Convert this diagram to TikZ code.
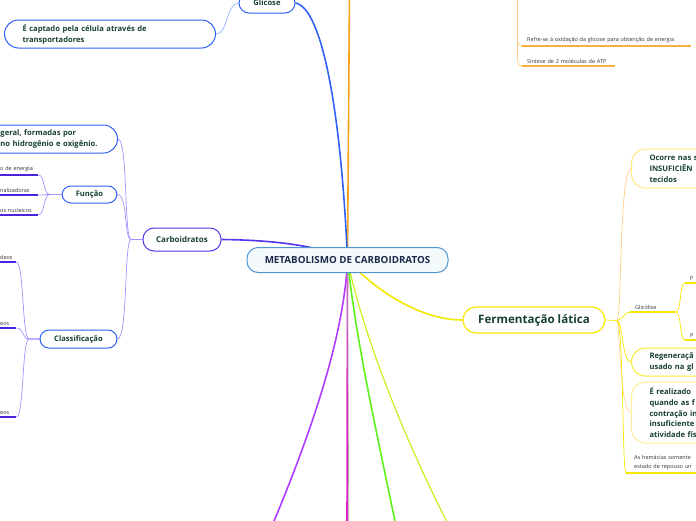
\documentclass[tikz,border=0pt]{standalone}
\usepackage{fontspec}
\setmainfont{Open Sans}
\pgfdeclarelayer{bg}
\pgfsetlayers{bg,main}
\definecolor{navy}{HTML}{1C2B4A}
\definecolor{dgreen}{HTML}{17402F}
\definecolor{cblue}{HTML}{4F95D4}
\definecolor{bblue}{HTML}{2F62F5}
\definecolor{lblue}{HTML}{93B2FF}
\definecolor{purp}{HTML}{5236EE}
\definecolor{lav}{HTML}{A392FF}
\definecolor{uline}{HTML}{4A22E0}
\definecolor{orng}{HTML}{F7A21B}
\definecolor{lorng}{HTML}{FFCB85}
\definecolor{yel}{HTML}{F4E800}
\definecolor{pyel}{HTML}{FFE77A}
\definecolor{gtxt}{HTML}{333333}
\definecolor{vio}{HTML}{B13CFF}
\definecolor{mag}{HTML}{E020C8}
\definecolor{grn}{HTML}{5EF21C}
\definecolor{ygrn}{HTML}{C8F020}
\begin{document}
\begin{tikzpicture}[x=1pt,y=-1pt,
  mainnode/.style={draw=cblue,fill=cblue!6,line width=1pt,rounded corners=11pt,
    minimum width=201pt,minimum height=25pt,text=navy,font=\fontsize{9.8}{11}\selectfont\bfseries},
  topic/.style={draw=bblue,fill=white,line width=1pt,rounded corners=9pt,text=dgreen,
    font=\fontsize{7.6}{11}\selectfont\bfseries,inner sep=0pt,align=center},
  wbox/.style={topic,anchor=west,align=left,inner xsep=18pt,rounded corners=14pt},
  leaf/.style={anchor=south west,inner xsep=5pt,inner ysep=2.5pt,align=left,text=gtxt,
    font=\fontsize{5.5}{9}\selectfont},
  ul/.style={line width=2pt},
  thinc/.style={line width=0.7pt},
  branch/.style={line width=1.6pt}
]
\useasboundingbox (0,0) rectangle (696,520);
\clip (0,0) rectangle (696,520);

% ---------- coordinates off-picture / helpers ----------
\coordinate (otop) at (349.5,-10);
\coordinate (orp) at (517.5,-10);
\coordinate (b1) at (272,526);
\coordinate (b2) at (347,526);
\coordinate (b3) at (348.8,526);
\coordinate (b4) at (396,526);
\coordinate (b5) at (449,526);
\coordinate (fx) at (45,0);
\coordinate (kx) at (24,0);

% ---------- nodes ----------
\node[mainnode] (c) at (347.5,260) {METABOLISMO DE CARBOIDRATOS};

\node[topic,minimum width=56pt,minimum height=20pt,rounded corners=10pt] (gl) at (267,3) {Glicose};
\node[wbox,minimum height=28pt,text width=175pt,draw=bblue] (cap) at (4,34)
  {É captado pela célula através de\\transportadores};

\node[topic,draw=purp,minimum width=78pt,minimum height=23pt,rounded corners=11pt,
  font=\fontsize{8}{11}\selectfont\bfseries] (carb) at (182,239.5) {Carboidratos};
\node[wbox,minimum height=28pt,text width=171pt] (gen) at (-90,139)
  {\hspace*{72pt}geral, formadas por\\\hspace*{72pt}no hidrogênio e oxigênio.};
\node[topic,minimum width=55pt,minimum height=17pt] (fun) at (89.5,194.5) {Função};
\node[topic,minimum width=77pt,minimum height=18pt] (cls) at (78.5,339) {Classificação};

\node[leaf,text width=33pt] (f1) at (-5,175) {o de energia};
\node[leaf,text width=33pt] (f2) at (-5,195) {nalizadoras};
\node[leaf,text width=33pt] (f3) at (-5,215) {os nucleicos};
\node[leaf,text width=11pt] (k1) at (-5,262) {deos};
\node[leaf,text width=11pt] (k2) at (-5,328) {eos};
\node[leaf,text width=11pt] (k3) at (-5,417) {eos};

\node[leaf,text width=159pt] (r1) at (522,46) {Refre-se à oxidação da glicose para obtenção de energia};
\node[leaf,text width=83pt] (r2) at (522,66) {Síntese de 2 moléculas de ATP};

\node[topic,draw=yel,line width=1.2pt,minimum width=142pt,minimum height=26pt,rounded corners=13pt,
  font=\fontsize{11.6}{13}\selectfont\bfseries] (ferm) at (534,320) {Fermentação lática};
\coordinate (fj) at (617,320.5);

\node[wbox,draw=pyel,minimum height=39pt,text width=100pt] (oc) at (631,168.5)
  {Ocorre nas s\\INSUFICIÊN\\tecidos};
\node[leaf,text width=35pt] (gli) at (630,312) {Glicólise};
\node[leaf,text width=15pt] (p1) at (685,283) {P};
\node[leaf,text width=15pt] (p2) at (685,340) {P};
\node[wbox,draw=yel!80,minimum height=28pt,text width=100pt] (reg) at (631,362)
  {Regeneraçã\\usado na gl};
\node[wbox,draw=pyel!80,minimum height=61pt,text width=100pt,font=\fontsize{7.6}{10.6}\selectfont\bfseries] (rea) at (631,412.5)
  {É realizado\\quando as f\\contração in\\insuficiente\\atividade fís};
\node[leaf,text width=80pt,inner xsep=8pt] (hem) at (626,473)
  {As hemácias somente\\estado de repouso un};

% ---------- underlines ----------
\foreach \n in {f1,f2,f3,k1,k2,k3} \draw[ul,uline] (\n.south west) -- (\n.south east);
\foreach \n in {r1,r2} \draw[ul,orng!85] (\n.south west) -- (\n.south east);
\foreach \n in {gli,p1,p2,hem} \draw[ul,yel] (\n.south west) -- (\n.south east);

% ---------- connectors (behind nodes) ----------
\begin{pgfonlayer}{bg}
  % main branches from centre
  \draw[branch,orng] (otop) -- (c.center);
  \draw[branch,bblue] (gl.east) .. controls (322,8) and (341,110) .. (c.center);
  \draw[branch,purp] (carb.east) .. controls (270,240) and (320,245) .. (c.center);
  \draw[branch,vio] (c.center) .. controls (344,340) and (308,440) .. (b1);
  \draw[branch,mag] (c.center) -- (b2);
  \draw[thinc,black!35] (c.center) -- (b3);
  \draw[branch,grn] (c.center) .. controls (356,340) and (374,420) .. (b4);
  \draw[line width=1.2pt,ygrn] (c.center) .. controls (362,330) and (400,430) .. (b5);
  \draw[branch,yel] (c.center) .. controls (375,290) and (420,320) .. (ferm.west);

  % Glicose
  \draw[thinc,lblue] (gl.west) .. controls (226,4) and (228,34) .. (cap.east);

  % top orange sub-branch
  \draw[thinc,lorng] (orp) -- (517.5,36) .. controls (517.5,43) and (518,46) .. (r1.south west);
  \draw[thinc,lorng] (orp) -- (517.5,56) .. controls (517.5,63) and (518,66) .. (r2.south west);

  % Carboidratos children
  \draw[thinc,lav] (carb.west) -- (131,239.5) .. controls (124,239.5) and (128,139) .. (gen.east);
  \draw[thinc,lav] (carb.west) -- (131,239.5) .. controls (124,239.5) and (128,194.5) .. (fun.east);
  \draw[thinc,lav] (carb.west) -- (131,239.5) .. controls (124,239.5) and (128,339) .. (cls.east);

  % Funcao children
  \foreach \n in {f1,f2,f3}
    \draw[thinc,lav] (fun.west) -- (50,194.5) .. controls (43,194.5) and (\n.south east -| fx) .. (\n.south east);
  % Classificacao children
  \foreach \n in {k1,k2,k3}
    \draw[thinc,lav] (cls.west) -- (29,339) .. controls (22,339) and (\n.south east -| kx) .. (\n.south east);

  % Fermentacao children
  \draw[thinc,yel] (ferm.east) -- (fj);
  \draw[thinc,lorng] (fj) .. controls (622,315) and (619,172) .. (oc.west);
  \draw[thinc,yel] (fj) .. controls (623,320) and (624,312) .. (gli.south west);
  \draw[thinc,yel] (fj) .. controls (623,322) and (622,362) .. (reg.west);
  \draw[thinc,lorng!80] (fj) .. controls (620,330) and (620,412) .. (rea.west);
  \draw[thinc,yel] (fj) .. controls (624,330) and (622,472) .. (hem.south west);
  \draw[thinc,yel] (gli.south east) .. controls (682,312) and (679,283) .. (p1.south west);
  \draw[thinc,yel] (gli.south east) .. controls (682,312) and (679,340) .. (p2.south west);
\end{pgfonlayer}
\end{tikzpicture}
\end{document}
